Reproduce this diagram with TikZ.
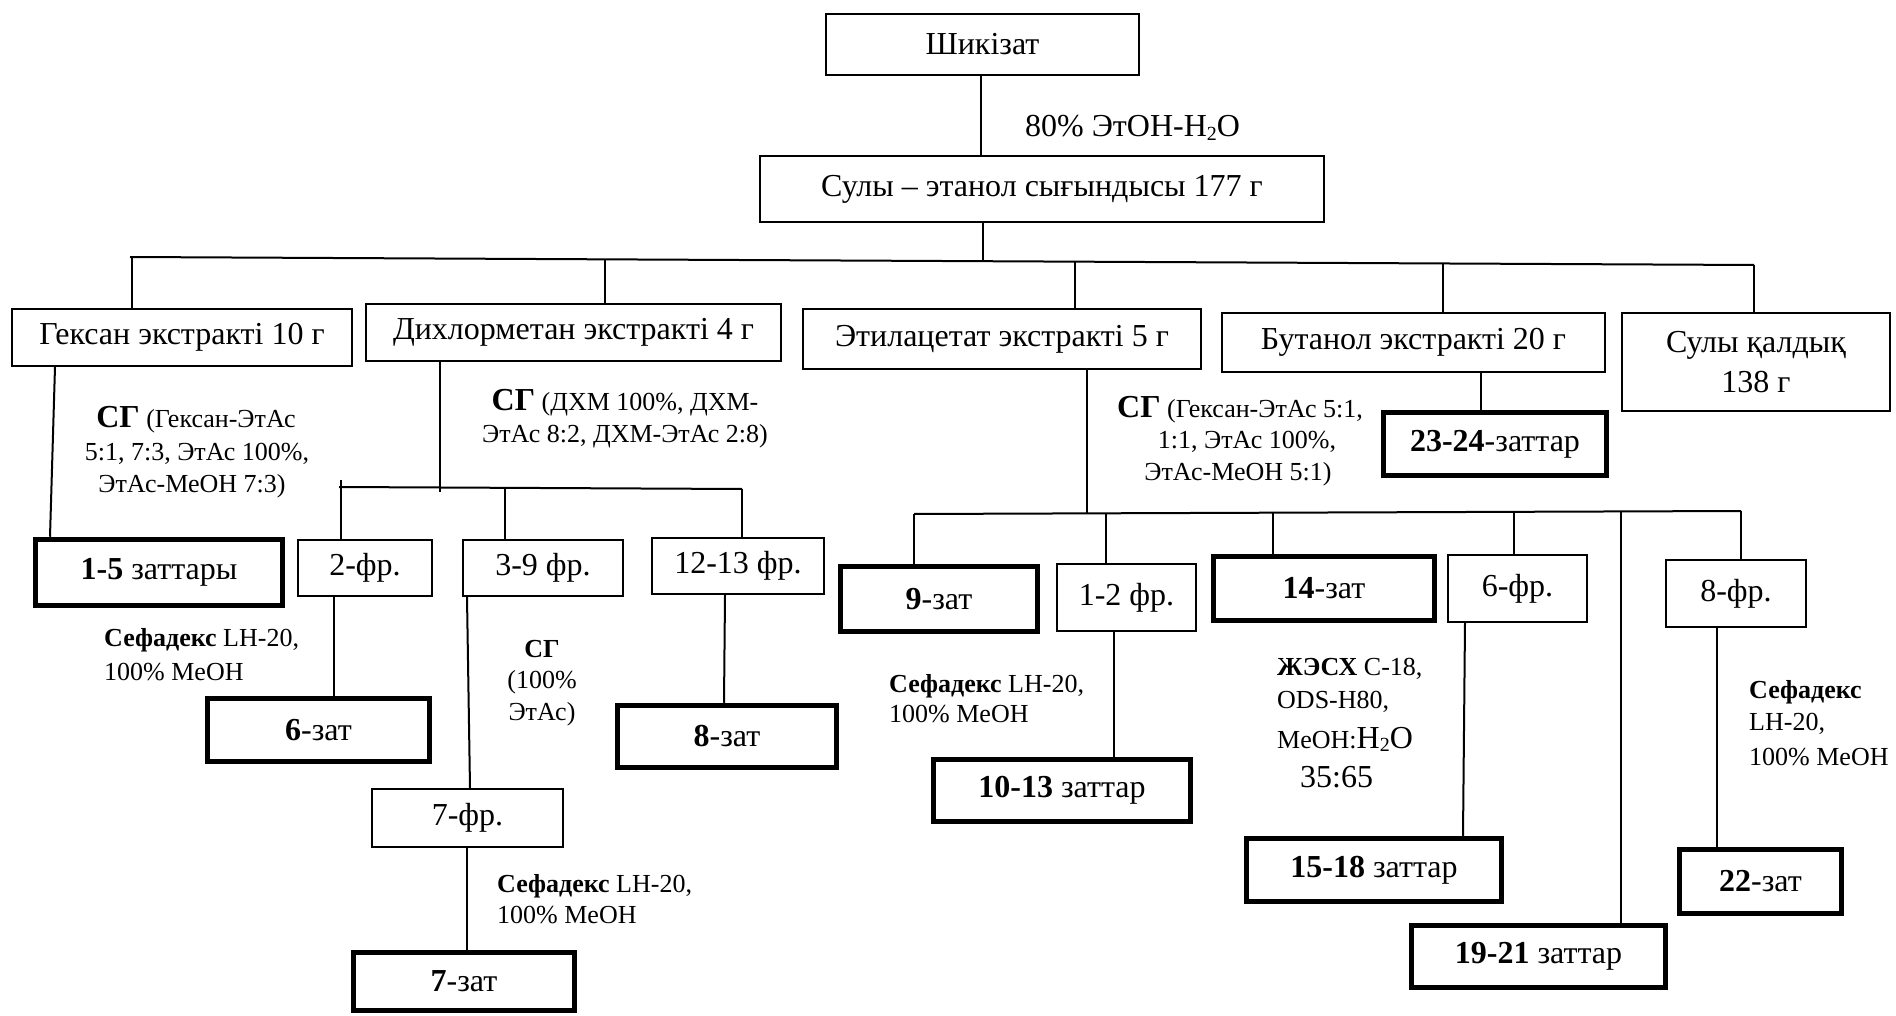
\documentclass[tikz,border=0pt]{standalone}
\usepackage{fontspec}
\setmainfont{Liberation Serif}
\newcommand\mainfs{\fontsize{32}{40}\selectfont}
\newcommand\notefs{\fontsize{26}{32}\selectfont}
\newcommand\bigsg{{\mainfs\bfseries СГ}}
\tikzset{
  box/.style={draw, line width=2pt, inner sep=0pt, align=center, font=\mainfs},
  rbox/.style={box, line width=5.5pt},
  note/.style={inner sep=0pt, font=\notefs},
  link/.style={line width=2pt},
}
\begin{document}
\begin{tikzpicture}[x=1pt, y=-1pt]
\useasboundingbox (0,0) rectangle (1896,1016);

% ---- top of the scheme
\node[box, minimum width=313pt, minimum height=61pt] (shik) at (982.5,44.5) {Шикізат};
\node[box, minimum width=564pt, minimum height=66pt] (ext) at (1042,189) {Сулы – этанол сығындысы 177 г};
\node[note, font=\mainfs, anchor=base west] (etoh) at (1025,137) {80\% ЭтОН-H\raisebox{-0.25ex}{\fontsize{20}{20}\selectfont 2}O};

% ---- extracts
\node[box, minimum width=340pt, minimum height=57pt] (hex) at (182,337.5) {Гексан экстракті 10 г};
\node[box, minimum width=415pt, minimum height=57pt] (dcm) at (573.5,332.5) {Дихлорметан экстракті 4 г};
\node[box, minimum width=398pt, minimum height=60pt] (eta) at (1002,339) {Этилацетат экстракті 5 г};
\node[box, minimum width=383pt, minimum height=59pt] (but) at (1413.5,342.5) {Бутанол экстракті 20 г};
\node[box, minimum width=268pt, minimum height=98pt] (res) at (1756,362) {Сулы қалдық\\138 г};

% ---- hexane branch
\node[rbox, minimum width=247pt, minimum height=66pt] (z15) at (159,572.5) {\textbf{1-5} заттары};

% ---- dichloromethane branch
\node[box, minimum width=134pt, minimum height=56pt] (f2) at (365,568) {2-фр.};
\node[box, minimum width=160pt, minimum height=56pt] (f39) at (543,568) {3-9 фр.};
\node[box, minimum width=172pt, minimum height=56pt] (f1213) at (738,566) {12-13 фр.};
\node[rbox, minimum width=222pt, minimum height=63pt] (z6) at (318.5,730) {\textbf{6}-зат};
\node[box, minimum width=191pt, minimum height=58pt] (f7) at (467.5,818) {7-фр.};
\node[rbox, minimum width=221pt, minimum height=58pt] (z7) at (464,981.5) {\textbf{7}-зат};
\node[rbox, minimum width=219pt, minimum height=62pt] (z8) at (727,736.5) {\textbf{8}-зат};

% ---- ethyl acetate branch
\node[rbox, minimum width=197pt, minimum height=65pt] (z9) at (939,599) {\textbf{9}-зат};
\node[box, minimum width=139pt, minimum height=67pt] (f12) at (1126.5,597.5) {1-2 фр.};
\node[rbox, minimum width=221pt, minimum height=64pt] (z14) at (1324,588.5) {\textbf{14}-зат};
\node[box, minimum width=139pt, minimum height=67pt] (f6) at (1517.5,588.5) {6-фр.};
\node[box, minimum width=140pt, minimum height=67pt] (f8) at (1736,593.5) {8-фр.};
\node[rbox, minimum width=257pt, minimum height=62pt] (z1013) at (1062,790.5) {\textbf{10-13} заттар};
\node[rbox, minimum width=255pt, minimum height=63pt] (z1518) at (1374,870) {\textbf{15-18} заттар};
\node[rbox, minimum width=254pt, minimum height=62pt] (z1921) at (1538.5,956.5) {\textbf{19-21} заттар};
\node[rbox, minimum width=162pt, minimum height=64pt] (z22) at (1760.5,881.5) {\textbf{22}-зат};

% ---- butanol branch
\node[rbox, minimum width=223pt, minimum height=63pt] (z2324) at (1495,444) {\textbf{23-24}-заттар};

% ---- main bus and its junctions
\coordinate (busL) at (130,257);
\coordinate (busR) at (1754,265);
\coordinate (jHex) at (132,257.0);
\coordinate (jDcm) at (605,259.3);
\coordinate (jExt) at (983,261.2);
\coordinate (jEta) at (1075,261.7);
\coordinate (jBut) at (1443,263.5);

\draw[link] (981,0 |- shik.south) -- (981,0 |- ext.north);
\draw[link] (jExt |- ext.south) -- (jExt);
\draw[link] (busL) -- (busR);
\draw[link] (jHex) -- (jHex |- hex.north);
\draw[link] (jDcm) -- (jDcm |- dcm.north);
\draw[link] (jEta) -- (jEta |- eta.north);
\draw[link] (jBut) -- (jBut |- but.north);
\draw[link] (busR) -- (busR |- res.north);

% ---- hexane
\draw[link] (55,0 |- hex.south) -- (50,0 |- z15.north);

% ---- dichloromethane sub-bus
\coordinate (dL) at (339,487);
\coordinate (dR) at (742,489);
\coordinate (jDsub) at (440,487.5);
\coordinate (jF2) at (341,480);
\coordinate (jF39) at (505,487.8);
\draw[link] (jDsub |- dcm.south) -- (440,492);
\draw[link] (dL) -- (dR);
\draw[link] (jF2) -- (jF2 |- f2.north);
\draw[link] (jF39) -- (jF39 |- f39.north);
\draw[link] (dR) -- (dR |- f1213.north);
\draw[link] (334,0 |- f2.south) -- (334,0 |- z6.north);
\draw[link] (467,0 |- f39.south) -- (470,0 |- f7.north);
\draw[link] (467,0 |- f7.south) -- (467,0 |- z7.north);
\draw[link] (725,0 |- f1213.south) -- (724,0 |- z8.north);

% ---- ethyl acetate sub-bus
\coordinate (eL) at (914,514);
\coordinate (eR) at (1741,511);
\coordinate (jEsub) at (1087,513.4);
\coordinate (jF12) at (1106,513.3);
\coordinate (jZ14) at (1273,512.7);
\coordinate (jF6) at (1514,511.8);
\coordinate (jZ1921) at (1621,511.4);
\draw[link] (jEsub |- eta.south) -- (jEsub);
\draw[link] (eL) -- (eR);
\draw[link] (eL) -- (eL |- z9.north);
\draw[link] (jF12) -- (jF12 |- f12.north);
\draw[link] (jZ14) -- (jZ14 |- z14.north);
\draw[link] (jF6) -- (jF6 |- f6.north);
\draw[link] (jZ1921) -- (jZ1921 |- z1921.north);
\draw[link] (eR) -- (eR |- f8.north);
\draw[link] (1114,0 |- f12.south) -- (1114,0 |- z1013.north);
\draw[link] (1465,0 |- f6.south) -- (1463,0 |- z1518.north);
\draw[link] (1717,0 |- f8.south) -- (1717,0 |- z22.north);

% ---- butanol
\draw[link] (1481,0 |- but.south) -- (1481,0 |- z2324.north);

% ---- separation conditions
\node[note, anchor=base] (hx1) at (196,427) {\bigsg{} (Гексан-ЭтАс};
\node[note, anchor=base] (hx2) at (197,460) {5:1, 7:3, ЭтАс 100\%,};
\node[note, anchor=base] (hx3) at (192,492) {ЭтАс-МеОН 7:3)};

\node[note, anchor=base] (dc1) at (625,410) {\bigsg{} (ДХМ 100\%, ДХМ-};
\node[note, anchor=base] (dc2) at (625,442) {ЭтАс 8:2, ДХМ-ЭтАс 2:8)};

\node[note, anchor=base] (ea1) at (1240,417) {\bigsg{} (Гексан-ЭтАс 5:1,};
\node[note, anchor=base] (ea2) at (1247,448) {1:1, ЭтАс 100\%,};
\node[note, anchor=base] (ea3) at (1238,480) {ЭтАс-МеОН 5:1)};

\node[note, anchor=base west] (sa1) at (104,646) {\textbf{Сефадекс} LH-20,};
\node[note, anchor=base west] (sa2) at (104,680) {100\% MeOH};

\node[note, anchor=base] (sg1) at (542,657) {\textbf{СГ}};
\node[note, anchor=base] (sg2) at (542,688) {(100\%};
\node[note, anchor=base] (sg3) at (542,720) {ЭтАс)};

\node[note, anchor=base west] (sb1) at (497,892) {\textbf{Сефадекс} LH-20,};
\node[note, anchor=base west] (sb2) at (497,923) {100\% MeOH};

\node[note, anchor=base west] (sc1) at (889,692) {\textbf{Сефадекс} LH-20,};
\node[note, anchor=base west] (sc2) at (889,722) {100\% MeOH};

\node[note, anchor=base west] (hp1) at (1277,675) {\textbf{ЖЭСХ} С-18,};
\node[note, anchor=base west] (hp2) at (1277,708) {ODS-H80,};
\node[note, anchor=base west] (hp3) at (1277,748) {MeOH:{\mainfs H\raisebox{-0.25ex}{\fontsize{20}{20}\selectfont 2}O}};
\node[note, font=\mainfs, anchor=base west] (hp4) at (1300,787) {35:65};

\node[note, anchor=base west] (sd1) at (1749,698) {\textbf{Сефадекс}};
\node[note, anchor=base west] (sd2) at (1749,730) {LH-20,};
\node[note, anchor=base west] (sd3) at (1749,765) {100\% MeOH};
\end{tikzpicture}
\end{document}
